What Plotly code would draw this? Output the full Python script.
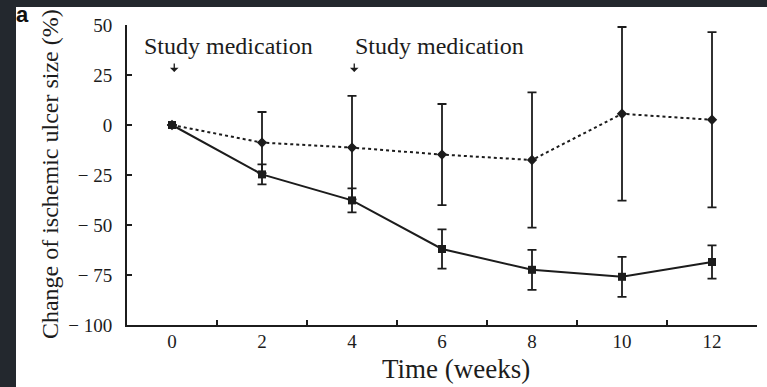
import plotly.graph_objects as go

weeks = [0, 2, 4, 6, 8, 10, 12]
# solid line, squares
solid_mean = [0, -24.7, -37.7, -62.0, -72.4, -75.9, -68.5]
solid_err = [0, 5.0, 6.0, 9.8, 10.0, 10.0, 8.3]
# dotted line, diamonds
dotted_mean = [0, -8.8, -11.3, -14.8, -17.5, 5.6, 2.6]
dotted_err = [0, 15.3, 25.9, 25.3, 33.8, 43.4, 43.8]

y_tickvals = [50, 25, 0, -25, -50, -75, -100]
y_ticktext = ["50", "25", "0", "\u2212 25", "\u2212 50", "\u2212 75", "\u2212 100"]
x_minor_ticks = [1, 3, 5, 7, 9, 11, 13]
x_label_vals = [0, 2, 4, 6, 8, 10, 12]
x_label_text = ["0", "2", "4", "6", "8", "10", "12"]
medication_weeks = [0, 4]

SERIF = "Liberation Serif, Times New Roman, serif"
INK = "#1c1c1c"
FRAME = "#23282e"

fig = go.Figure()

fig.add_trace(go.Scatter(
    x=weeks, y=dotted_mean, mode="lines+markers",
    line=dict(color=INK, width=2, dash="dot"),
    marker=dict(symbol="diamond", size=8, color=INK),
    error_y=dict(type="data", array=dotted_err, visible=True,
                 color=INK, thickness=1.8, width=4.5),
    showlegend=False, cliponaxis=False,
))
fig.add_trace(go.Scatter(
    x=weeks, y=solid_mean, mode="lines+markers",
    line=dict(color=INK, width=2),
    marker=dict(symbol="square", size=8, color=INK),
    error_y=dict(type="data", array=solid_err, visible=True,
                 color=INK, thickness=1.8, width=4.5),
    showlegend=False, cliponaxis=False,
))
# invisible trace for second x axis (tick labels)
fig.add_trace(go.Scatter(x=[0], y=[0], xaxis="x2", mode="markers",
                         marker=dict(opacity=0), showlegend=False, hoverinfo="skip"))

fig.update_layout(
    width=767, height=387,
    margin=dict(l=127, r=10, t=25, b=62),
    paper_bgcolor="white", plot_bgcolor="white",
    font=dict(family=SERIF, color=INK),
    xaxis=dict(range=[-1, 13], showline=True, linecolor=INK, linewidth=2,
               tickvals=x_minor_ticks, ticks="inside", ticklen=5, tickwidth=1.5,
               tickcolor=INK, showticklabels=False, showgrid=False, zeroline=False),
    xaxis2=dict(range=[-1, 13], overlaying="x", anchor="y", side="bottom",
                tickvals=x_label_vals, ticktext=x_label_text, ticks="",
                showline=False, showgrid=False, zeroline=False,
                tickfont=dict(family=SERIF, size=19, color=INK),
                ticklabelstandoff=3),
    yaxis=dict(range=[-100, 50], showline=True, linecolor=INK, linewidth=2,
               tickvals=y_tickvals, ticktext=y_ticktext, ticks="inside",
               ticklen=5, tickwidth=1.5, tickcolor=INK,
               tickfont=dict(family=SERIF, size=19, color=INK),
               showgrid=False, zeroline=False, ticklabelstandoff=9),
)

annotations = [
    dict(text="Change of ischemic ulcer size (%)", xref="paper", yref="paper",
         x=-0.1222, y=0.503, textangle=-90, showarrow=False,
         font=dict(family=SERIF, size=24, color=INK), xanchor="center", yanchor="middle"),
    dict(text="Time (weeks)", xref="paper", yref="paper", x=0.522, y=-0.1467,
         showarrow=False, font=dict(family=SERIF, size=27, color=INK),
         xanchor="center", yanchor="middle"),
    dict(text="Study medication", xref="x", yref="y", x=-0.66, y=39.5,
         showarrow=False, font=dict(family=SERIF, size=24, color=INK),
         xanchor="left", yanchor="middle"),
    dict(text="Study medication", xref="x", yref="y", x=4.02, y=39.5,
         showarrow=False, font=dict(family=SERIF, size=24, color=INK),
         xanchor="left", yanchor="middle"),
    dict(text="<b>a</b>", xref="paper", yref="paper", x=-0.1659, y=1.0357,
         showarrow=False, font=dict(family="Liberation Sans, Arial, sans-serif", size=22, color="#111"),
         xanchor="center", yanchor="middle"),
]
for wk in medication_weeks:
    annotations.append(dict(
        text="", xref="x", yref="y", x=wk + 0.05, y=26.5,
        showarrow=True, ax=0, ay=-10, arrowhead=1, arrowsize=1.1,
        arrowwidth=1.3, arrowcolor=INK))
fig.update_layout(annotations=annotations)

# dark frame strips (left and top) from the source image
px_w, px_h = 630.0, 300.0
def px_x(p):
    return (p - 127) / px_w
def px_y(p):
    return (325 - p) / px_h
fig.add_shape(type="rect", xref="paper", yref="paper",
              x0=px_x(0), x1=px_x(16), y0=px_y(387), y1=px_y(0),
              fillcolor=FRAME, line=dict(width=0), layer="above")
fig.add_shape(type="rect", xref="paper", yref="paper",
              x0=px_x(0), x1=px_x(767), y0=px_y(7), y1=px_y(0),
              fillcolor=FRAME, line=dict(width=0), layer="above")

fig.write_html("out.html")
